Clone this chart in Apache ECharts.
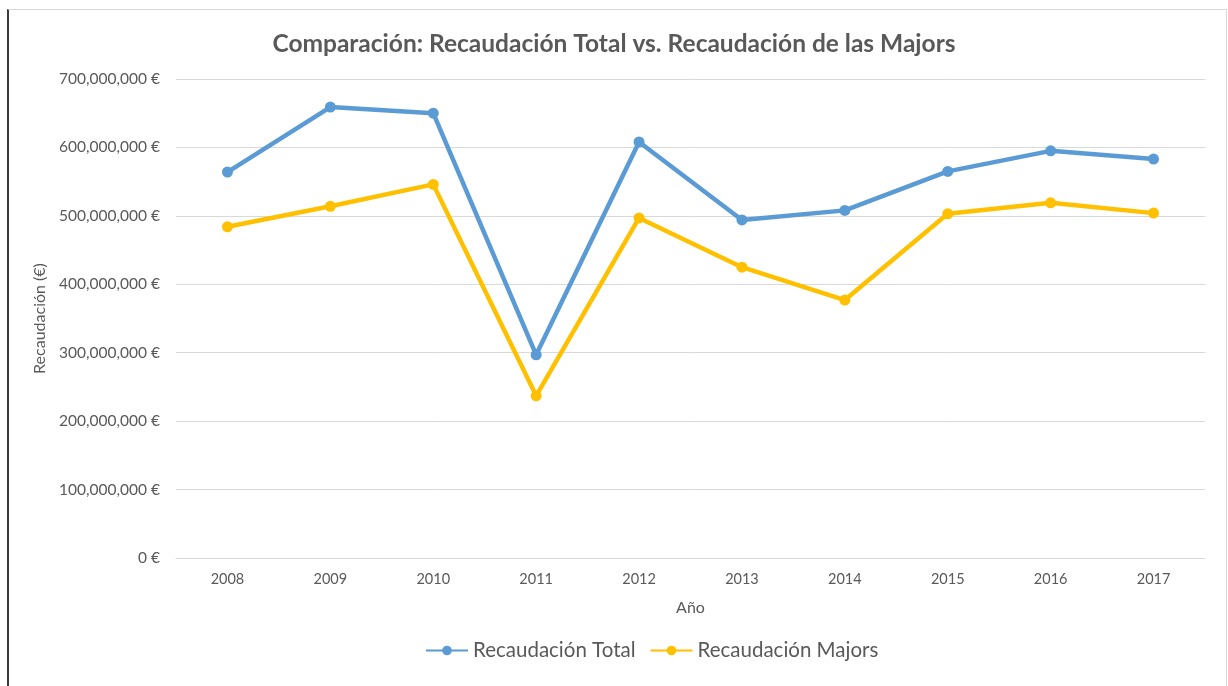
<!DOCTYPE html>
<html>
<head>
<meta charset="utf-8">
<script src="https://cdn.jsdelivr.net/npm/echarts@6/dist/echarts.min.js"></script>
<style>
    html, body { margin: 0; padding: 0; background: #fff; }
    #frame {
        position: absolute; left: 7px; top: 9px; width: 1217px; height: 690px;
        border-left: 2px solid #3a3a3a; border-top: 1px solid #d9d9d9; border-right: 1px solid #d9d9d9;
    }
    #chart { position: absolute; left: 0; top: 0; width: 1228px; height: 686px; }
</style>
</head>
<body>
<div id="frame"></div>
<div id="chart"></div>
<script>
    const years = ['2008', '2009', '2010', '2011', '2012', '2013', '2014', '2015', '2016', '2017']
    const recaudacionTotal = [564e6, 659e6, 650e6, 297e6, 608e6, 494e6, 508e6, 565e6, 595e6, 583e6]
    const recaudacionMajors = [484e6, 514e6, 546e6, 237e6, 497e6, 425e6, 377e6, 503e6, 519e6, 504e6]

    const textColor = '#595959'
    const font = 'Lato, "Open Sans", sans-serif'

    const myChart = echarts.init(document.getElementById('chart'))
    let option = {
        color: ['#5B9BD5', '#FFC000'],
        title: {
            text: 'Comparación: Recaudación Total vs. Recaudación de las Majors',
            left: 'center',
            top: 27,
            textStyle: { color: textColor, fontSize: 24.5, fontWeight: 'bold', fontFamily: font }
        },
        legend: {
            bottom: 20,
            left: 420,
            itemWidth: 42,
            itemHeight: 12,
            itemGap: 14,
            textStyle: { color: textColor, fontSize: 20.5, fontFamily: font },
            data: ['Recaudación Total', 'Recaudación Majors']
        },
        grid: {
            left: 176,
            right: 23,
            top: 79,
            bottom: 128,
            containLabel: false
        },
        xAxis: {
            type: 'category',
            data: years,
            boundaryGap: true,
            name: 'Año',
            nameLocation: 'middle',
            nameGap: 42,
            nameTextStyle: { color: textColor, fontSize: 16, fontFamily: font },
            axisLine: { lineStyle: { color: '#d9d9d9', width: 1 } },
            axisTick: { show: false },
            axisLabel: { color: textColor, fontSize: 14.5, fontFamily: font, margin: 14 }
        },
        yAxis: {
            type: 'value',
            min: 0,
            max: 700e6,
            interval: 100e6,
            name: 'Recaudación (€)',
            nameLocation: 'middle',
            nameGap: 124,
            nameTextStyle: { color: textColor, fontSize: 16, fontFamily: font },
            axisLine: { show: false },
            axisTick: { show: false },
            splitLine: { lineStyle: { color: '#d9d9d9', width: 1 } },
            axisLabel: {
                color: textColor,
                fontSize: 15.5,
                fontFamily: font,
                margin: 16,
                formatter: v => v.toLocaleString('en-US') + ' €'
            }
        },
        series: [
            {
                name: 'Recaudación Total',
                type: 'line',
                data: recaudacionTotal,
                symbol: 'circle',
                symbolSize: 11,
                lineStyle: { width: 4.5 }
            },
            {
                name: 'Recaudación Majors',
                type: 'line',
                data: recaudacionMajors,
                symbol: 'circle',
                symbolSize: 11,
                lineStyle: { width: 4.5 }
            }
        ]
    }
    myChart.setOption(option)
</script>
</body>
</html>
